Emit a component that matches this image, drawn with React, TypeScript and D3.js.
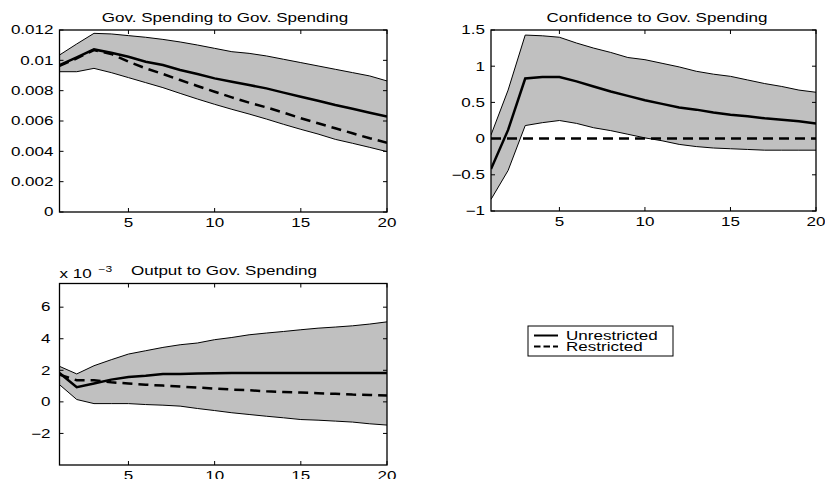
import React from "react";
import * as d3 from "d3";

// ---------- data ----------
const horizons = [1, 2, 3, 4, 5, 6, 7, 8, 9, 10, 11, 12, 13, 14, 15, 16, 17, 18, 19, 20];

// Gov. Spending to Gov. Spending
const gUpper = [0.01035, 0.01108, 0.01178, 0.01174, 0.01163, 0.01152, 0.01138, 0.01121, 0.01101, 0.01079, 0.01057, 0.01046, 0.01029, 0.01007, 0.00985, 0.00963, 0.00941, 0.00919, 0.00897, 0.00864];
const gLower = [0.00925, 0.00925, 0.00947, 0.00919, 0.00886, 0.00853, 0.0082, 0.00782, 0.00745, 0.0071, 0.00677, 0.00646, 0.00613, 0.00578, 0.00545, 0.00514, 0.00479, 0.00453, 0.00426, 0.00398];
const gUnres = [0.00969, 0.0102, 0.01072, 0.0105, 0.01024, 0.00991, 0.00969, 0.00936, 0.0091, 0.00881, 0.00859, 0.00837, 0.00815, 0.00787, 0.0076, 0.00734, 0.00705, 0.00681, 0.00655, 0.00629];
const gRes = [0.00963, 0.01013, 0.01068, 0.01042, 0.00991, 0.00947, 0.0091, 0.0087, 0.00831, 0.00793, 0.00756, 0.00721, 0.0069, 0.00655, 0.00618, 0.00585, 0.00552, 0.00519, 0.00486, 0.00457];

// Confidence to Gov. Spending
const cUpper = [0.05, 0.67, 1.43, 1.42, 1.4, 1.32, 1.25, 1.19, 1.12, 1.09, 1.04, 0.99, 0.93, 0.89, 0.86, 0.81, 0.76, 0.72, 0.67, 0.64];
const cLower = [-0.84, -0.44, 0.18, 0.22, 0.25, 0.21, 0.15, 0.11, 0.06, 0.01, -0.03, -0.08, -0.11, -0.13, -0.14, -0.15, -0.16, -0.16, -0.16, -0.16];
const cUnres = [-0.42, 0.12, 0.83, 0.85, 0.85, 0.79, 0.72, 0.65, 0.59, 0.53, 0.48, 0.43, 0.4, 0.36, 0.33, 0.31, 0.28, 0.26, 0.24, 0.21];
const cRes = [0, 0, 0, 0, 0, 0, 0, 0, 0, 0, 0, 0, 0, 0, 0, 0, 0, 0, 0, 0];

// Output to Gov. Spending (x 10^-3)
const oUpper = [2.25, 1.77, 2.29, 2.67, 3.03, 3.24, 3.45, 3.62, 3.73, 3.94, 4.08, 4.25, 4.36, 4.46, 4.57, 4.67, 4.74, 4.82, 4.93, 5.07];
const oLower = [1.09, 0.15, -0.11, -0.11, -0.11, -0.17, -0.21, -0.27, -0.42, -0.55, -0.69, -0.8, -0.91, -1.01, -1.12, -1.16, -1.22, -1.28, -1.39, -1.47];
const oUnres = [1.83, 0.93, 1.16, 1.41, 1.58, 1.66, 1.77, 1.77, 1.79, 1.81, 1.83, 1.83, 1.83, 1.83, 1.83, 1.83, 1.83, 1.83, 1.83, 1.83];
const oRes = [1.73, 1.37, 1.37, 1.24, 1.16, 1.09, 1.03, 0.97, 0.91, 0.84, 0.78, 0.74, 0.67, 0.63, 0.59, 0.55, 0.51, 0.46, 0.44, 0.4];

const xTicks = [5, 10, 15, 20];
const gTicks = [0, 0.002, 0.004, 0.006, 0.008, 0.01, 0.012];
const gTickLabels = ["0", "0.002", "0.004", "0.006", "0.008", "0.01", "0.012"];
const cTicks = [-1, -0.5, 0, 0.5, 1, 1.5];
const cTickLabels = ["\u22121", "\u22120.5", "0", "0.5", "1", "1.5"];
const oTicks = [-2, 0, 2, 4, 6];
const oTickLabels = ["\u22122", "0", "2", "4", "6"];

const titles = ["Gov. Spending to Gov. Spending", "Confidence to Gov. Spending", "Output to Gov. Spending"];
const legendLabels = ["Unrestricted", "Restricted"];

// ---------- layout / style ----------
const W = 825;
const H = 479;
const FONT = "'Liberation Sans', Arial, Helvetica, sans-serif";
const FS = 12;
const SX = 1.42;
const BAND = "#c0c0c0";
const DASH = "10,6";
const TICK = 4;

type PanelDef = {
  key: string;
  box: { l: number; r: number; t: number; b: number };
  ydom: [number, number];
  upper: number[];
  lower: number[];
  unres: number[];
  res: number[];
  ticks: number[];
  tickLabels: string[];
  title: string;
  titleX: number;
  labelGap: number;
  exponent?: boolean;
};

const panels: PanelDef[] = [
  {
    key: "g",
    box: { l: 59.5, r: 387, t: 30, b: 212 },
    ydom: [0, 0.012],
    upper: gUpper, lower: gLower, unres: gUnres, res: gRes,
    ticks: gTicks, tickLabels: gTickLabels,
    title: titles[0], titleX: 225, labelGap: 6,
  },
  {
    key: "c",
    box: { l: 491, r: 816, t: 30, b: 211 },
    ydom: [-1, 1.5],
    upper: cUpper, lower: cLower, unres: cUnres, res: cRes,
    ticks: cTicks, tickLabels: cTickLabels,
    title: titles[1], titleX: 657, labelGap: 6,
  },
  {
    key: "o",
    box: { l: 59.5, r: 387, t: 283.5, b: 465 },
    ydom: [-4, 7.5],
    upper: oUpper, lower: oLower, unres: oUnres, res: oRes,
    ticks: oTicks, tickLabels: oTickLabels,
    title: titles[2], titleX: 224, labelGap: 9, exponent: true,
  },
];

function Txt(props: { x: number; y: number; anchor?: string; size?: number; children: React.ReactNode }) {
  const { x, y, anchor = "start", size = FS, children } = props;
  return (
    <text
      transform={`translate(${x},${y}) scale(${SX},1)`}
      textAnchor={anchor}
      fontFamily={FONT}
      fontSize={size}
      fill="#000"
    >
      {children}
    </text>
  );
}

function Panel({ p }: { p: PanelDef }) {
  const { l, r, t, b } = p.box;
  const x = d3.scaleLinear().domain([1, 20]).range([l, r]);
  const y = d3.scaleLinear().domain(p.ydom).range([b, t]);
  const area = d3
    .area<number>()
    .x((_, i) => x(horizons[i]))
    .y0((_, i) => y(p.lower[i]))
    .y1((d) => y(d));
  const line = d3
    .line<number>()
    .x((_, i) => x(horizons[i]))
    .y((d) => y(d));
  const clipId = `clip-${p.key}`;
  return (
    <g>
      <defs>
        <clipPath id={clipId}>
          <rect x={l} y={t} width={r - l} height={b - t} />
        </clipPath>
      </defs>
      <g clipPath={`url(#${clipId})`}>
        <path d={area(p.upper) || ""} fill={BAND} stroke="none" />
        <path d={line(p.upper) || ""} fill="none" stroke="#000" strokeWidth={1} />
        <path d={line(p.lower) || ""} fill="none" stroke="#000" strokeWidth={1} />
        <path d={line(p.unres) || ""} fill="none" stroke="#000" strokeWidth={2.5} />
        <path d={line(p.res) || ""} fill="none" stroke="#000" strokeWidth={2.5} strokeDasharray={DASH} />
      </g>
      {xTicks.map((v) => (
        <g key={`xt${v}`}>
          <line x1={x(v)} x2={x(v)} y1={b} y2={b - TICK} stroke="#000" strokeWidth={1} />
          <line x1={x(v)} x2={x(v)} y1={t} y2={t + TICK} stroke="#000" strokeWidth={1} />
          <Txt x={x(v)} y={b + 15} anchor="middle">{String(v)}</Txt>
        </g>
      ))}
      {p.ticks.map((v, i) => (
        <g key={`yt${v}`}>
          <line x1={l} x2={l + TICK} y1={y(v)} y2={y(v)} stroke="#000" strokeWidth={1} />
          <line x1={r} x2={r - TICK} y1={y(v)} y2={y(v)} stroke="#000" strokeWidth={1} />
          <Txt x={l - p.labelGap} y={y(v) + 4.3} anchor="end">{p.tickLabels[i]}</Txt>
        </g>
      ))}
      <rect x={l} y={t} width={r - l} height={b - t} fill="none" stroke="#000" strokeWidth={1.3} />
      <Txt x={p.titleX} y={t - 8.5} anchor="middle">{p.title}</Txt>
      {p.exponent && (
        <g>
          <Txt x={l} y={t - 5.5}>x 10</Txt>
          <Txt x={l + 39} y={t - 12} size={8.5}>{"\u22123"}</Txt>
        </g>
      )}
    </g>
  );
}

function Legend() {
  const bx = 528, by = 326, bw = 145, bh = 30;
  const rows = [
    { label: legendLabels[0], dash: undefined as string | undefined, y: by + 9.5 },
    { label: legendLabels[1], dash: "6.5,3", y: by + 20.5 },
  ];
  return (
    <g>
      <rect x={bx} y={by} width={bw} height={bh} fill="#fff" stroke="#000" strokeWidth={1} />
      {rows.map((rw) => (
        <g key={rw.label}>
          <line x1={bx + 6} x2={bx + 30} y1={rw.y} y2={rw.y} stroke="#000" strokeWidth={2} strokeDasharray={rw.dash} />
          <Txt x={bx + 38} y={rw.y + 4}>{rw.label}</Txt>
        </g>
      ))}
    </g>
  );
}

export default function App() {
  return (
    <svg
      width={W}
      height={H}
      viewBox={`0 0 ${W} ${H}`}
      style={{ position: "absolute", left: 0, top: 0, background: "#fff" }}
    >
      <rect x={0} y={0} width={W} height={H} fill="#fff" />
      {panels.map((p) => (
        <Panel key={p.key} p={p} />
      ))}
      <Legend />
    </svg>
  );
}
